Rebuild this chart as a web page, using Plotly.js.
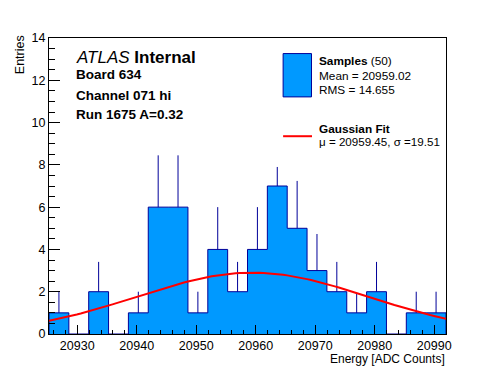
<!DOCTYPE html>
<html>
<head>
<meta charset="utf-8">
<script src="https://cdn.plot.ly/plotly-3.0.1.min.js"></script>
<style>html,body{margin:0;padding:0;background:#fff;}#chart{width:496px;height:372px;}</style>
</head>
<body>
<div id="chart"></div>
<script>
// ---- data ----
const binLow = 20925.26;       // lower edge of first bin
const binWidth = 3.336;        // bin width (ADC counts)
const counts = [1, 0, 2, 0, 1, 6, 6, 1, 4, 2, 4, 7, 5, 3, 2, 1, 2, 0, 1, 1];
const errUp  = [1, 0, 1.41, 0, 1, 2.45, 2.45, 1, 2, 1.41, 2, 0.9, 2.24, 1.73, 1.41, 0.9, 1.41, 0, 1, 1];
const fitMu = 20959.45;
const fitSigma = 19.51;
const fitAmp = 2.9;
const xTickVals = [20930, 20940, 20950, 20960, 20970, 20980, 20990];
const yTickVals = [0, 2, 4, 6, 8, 10, 12, 14];
const nSamples = 50;
const sampleMean = "20959.02";
const sampleRMS = "14.655";

// ---- derived ----
const nBins = counts.length;
const edges = counts.map((_, i) => binLow + i * binWidth).concat([binLow + nBins * binWidth]);
const centers = counts.map((_, i) => binLow + (i + 0.5) * binWidth);
const binHigh = edges[nBins];

const stepX = [edges[0]].concat(edges.slice(0, nBins), [edges[nBins], edges[nBins]]);
const stepY = [0].concat(counts, [counts[nBins - 1], 0]);

const fitX = [], fitY = [];
const nFit = 100;
for (let i = 0; i <= nFit; i++) {
  const x = binLow + (binHigh - binLow) * i / nFit;
  fitX.push(x);
  fitY.push(fitAmp * Math.exp(-0.5 * Math.pow((x - fitMu) / fitSigma, 2)));
}

const FILL = '#0099ff', EDGE = '#000099', RED = '#ff0000';
const FONT = 'Liberation Sans, Arial, Helvetica, sans-serif';

const traces = [
  { x: stepX, y: stepY, type: 'scatter', mode: 'lines', line: { shape: 'hv', color: EDGE, width: 1 },
    fill: 'tozeroy', fillcolor: FILL, hoverinfo: 'skip', showlegend: false },
  { x: centers, y: counts, type: 'scatter', mode: 'markers', marker: { size: 1, opacity: 0 },
    error_y: { type: 'data', symmetric: false, array: errUp, arrayminus: counts.map(() => 0),
               width: 0, thickness: 1, color: EDGE }, hoverinfo: 'skip', showlegend: false },
  { x: fitX, y: fitY, type: 'scatter', mode: 'lines', line: { color: RED, width: 2 },
    hoverinfo: 'skip', showlegend: false }
];

function ann(text, x, y, size, opts) {
  return Object.assign({ text: text, x: x, y: y, xref: 'paper', yref: 'paper', showarrow: false,
    xanchor: 'left', yanchor: 'middle', borderpad: 0, font: { family: FONT, size: size, color: '#000' } }, opts || {});
}

const layout = {
  width: 496, height: 372,
  margin: { l: 49.3, r: 50, t: 37.7, b: 38 },
  paper_bgcolor: '#fff', plot_bgcolor: '#fff',
  showlegend: false,
  font: { family: FONT, size: 12.5, color: '#000' },
  xaxis: {
    range: [binLow, binHigh], tickvals: xTickVals, ticktext: xTickVals.map(String),
    ticks: 'inside', ticklen: 9, tickwidth: 1, tickcolor: '#000',
    minor: { tick0: 20930, dtick: 2, ticks: 'inside', ticklen: 4.5, tickwidth: 1, tickcolor: '#000' },
    showline: true, linecolor: '#000', linewidth: 1, mirror: true,
    showgrid: false, zeroline: false, tickfont: { family: FONT, size: 12.5 }
  },
  yaxis: {
    range: [0, 14], tickvals: yTickVals, ticktext: yTickVals.map(String),
    ticks: 'inside', ticklen: 11, tickwidth: 1, tickcolor: '#000',
    minor: { tick0: 0, dtick: 0.5, ticks: 'inside', ticklen: 5.5, tickwidth: 1, tickcolor: '#000' },
    showline: true, linecolor: '#000', linewidth: 1, mirror: true,
    showgrid: false, zeroline: false, tickfont: { family: FONT, size: 12.5 }
  },
  shapes: [
    { type: 'rect', xref: 'paper', yref: 'paper', x0: 0.5897, x1: 0.6612, y0: 0.8010, y1: 0.9474,
      fillcolor: FILL, line: { color: EDGE, width: 1 } },
    { type: 'line', xref: 'paper', yref: 'paper', x0: 0.5897, x1: 0.6625, y0: 0.6682, y1: 0.6682,
      line: { color: RED, width: 2 } }
  ],
  annotations: [
    ann('<i>ATLAS</i> <b>Internal</b>', 0.0648, 0.9335, 17),
    ann('<b>Board 634</b>', 0.0648, 0.8755, 13.5),
    ann('<b>Channel 071 hi</b>', 0.0648, 0.8056, 13.5),
    ann('<b>Run 1675 A=0.32</b>', 0.0648, 0.7405, 13.5),
    ann('<b>Samples</b> (' + nSamples + ')', 0.6765, 0.9219, 11.8),
    ann('Mean = ' + sampleMean, 0.6765, 0.8713, 11.8),
    ann('RMS = ' + sampleRMS, 0.6765, 0.8258, 11.8),
    ann('<b>Gaussian Fit</b>', 0.6765, 0.6935, 11.8),
    ann('\u03bc = ' + fitMu.toFixed(2) + ', \u03c3 =' + fitSigma.toFixed(2), 0.6765, 0.650, 11.6),
    ann('Energy [ADC Counts]', 1.0, -0.085, 12, { xanchor: 'right' }),
    ann('Entries', -0.0746, 0.9433, 12.5, { xanchor: 'center', textangle: -90 })
  ]
};

Plotly.newPlot('chart', traces, layout, { displayModeBar: false, staticPlot: true });
</script>
</body>
</html>
